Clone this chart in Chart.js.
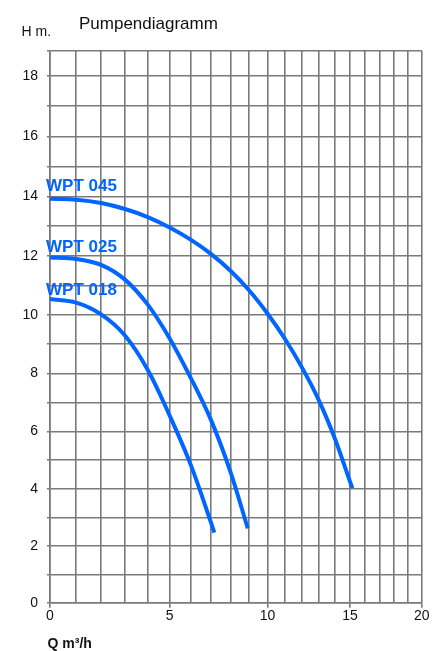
<!DOCTYPE html>
<html>
<head>
<meta charset="utf-8">
<script src="https://cdn.jsdelivr.net/npm/chart.js@4.4.1/dist/chart.umd.min.js"></script>
<style>
  html, body { margin: 0; padding: 0; background: #ffffff; }
  #wrap { width: 446px; height: 651px; position: relative; }
  canvas { display: block; }
</style>
</head>
<body>
<div id="wrap"><canvas id="c" width="446" height="651"></canvas></div>
<script>
// ---- data ----
const xTickValues = [0,1,2,3,4,5,6,7,8,9,10,11,12,13,14,15,16,17,18,19,20];
const xTickLabels = ['0','','','','','5','','','','','10','','','','','15','','','','','20'];
const yTickValues = [0,1,2,3,4,5,6,7,8,9,10,11,12,13,14,15,16,17,18];
const yTickLabels = ['0','','2','','4','','6','','8','','10','','12','','14','','16','','18'];

const seriesNames = ['WPT 045', 'WPT 025', 'WPT 018'];
const flowWPT045 = [0, 1, 2, 3, 4, 5, 6, 7, 8, 9, 10, 11, 12, 13, 14, 15, 15.15];
const headWPT045 = [13.92, 13.89, 13.78, 13.58, 13.31, 12.96, 12.55, 12.07, 11.5, 10.83, 10.05, 9.18, 8.2, 7.1, 5.78, 4.25, 4.03];
const flowWPT025 = [0, 1, 2, 3, 4, 5, 6, 7, 8, 8.92];
const headWPT025 = [11.95, 11.9, 11.7, 11.2, 10.35, 9.2, 7.85, 6.4, 4.6, 2.62];
const flowWPT018 = [0, 1, 2, 3, 4, 5, 6, 7, 7.17];
const headWPT018 = [10.54, 10.42, 10.02, 9.3, 8.12, 6.55, 4.85, 2.83, 2.47];

const titleText = 'Pumpendiagramm';
const yAxisText = 'H m.';
const xAxisText = 'Q m³/h';

// ---- non-uniform paper scale (as printed on the diagram) ----
const warps = {
  x: { f: v => Math.log(1 + v / 20), inv: t => 20 * (Math.exp(t) - 1) },
  y: { f: v => -Math.log(1 - v / 250), inv: t => 250 * (1 - Math.exp(-t)) }
};
class WarpScale extends Chart.LinearScale {
  _w() { return warps[this.axis] || warps.x; }
  getPixelForValue(value) {
    if (value === null || value === undefined || isNaN(value)) return NaN;
    const w = this._w();
    const a = w.f(this.min), b = w.f(this.max);
    return this.getPixelForDecimal((w.f(value) - a) / (b - a));
  }
  getValueForPixel(pixel) {
    const w = this._w();
    const a = w.f(this.min), b = w.f(this.max);
    return w.inv(a + this.getDecimalForPixel(pixel) * (b - a));
  }
}
WarpScale.id = 'warp';
WarpScale.defaults = Chart.LinearScale.defaults;
Chart.register(WarpScale);

const BLUE = '#0066ff';
const GRID = '#7a7a7a';

function pts(xs, ys) { return xs.map((x, i) => ({ x: x, y: ys[i] })); }

const textPlugin = {
  id: 'textPlugin',
  afterDraw(chart) {
    const ctx = chart.ctx;
    const xs = chart.scales.x, ys = chart.scales.y;
    ctx.save();
    ctx.textBaseline = 'alphabetic';
    ctx.textAlign = 'left';
    ctx.fillStyle = '#111';
    ctx.font = '17px "Liberation Sans", Arial, sans-serif';
    ctx.fillText(titleText, 79, 28.5);
    ctx.font = '14px "Liberation Sans", Arial, sans-serif';
    ctx.fillText(yAxisText, 21.5, 36);
    ctx.font = 'bold 14px "Liberation Sans", Arial, sans-serif';
    ctx.fillText(xAxisText, 47.5, 648);
    // series labels at the start of each curve
    ctx.fillStyle = BLUE;
    ctx.font = 'bold 17px "Liberation Sans", Arial, sans-serif';
    const offs = [-7.5, -5.5, -4];
    chart.data.datasets.forEach((ds, i) => {
      const p0 = ds.data[0];
      ctx.fillText(ds.label, xs.getPixelForValue(0) - 4, ys.getPixelForValue(p0.y) + offs[i]);
    });
    ctx.restore();
  }
};

const lineStyle = {
  borderColor: BLUE,
  borderWidth: 4,
  pointRadius: 0,
  fill: false,
  borderCapStyle: 'butt',
  tension: 0.35
};

new Chart(document.getElementById('c'), {
  type: 'line',
  data: {
    datasets: [
      Object.assign({ label: seriesNames[0], data: pts(flowWPT045, headWPT045) }, lineStyle),
      Object.assign({ label: seriesNames[1], data: pts(flowWPT025, headWPT025) }, lineStyle),
      Object.assign({ label: seriesNames[2], data: pts(flowWPT018, headWPT018) }, lineStyle)
    ]
  },
  options: {
    responsive: false,
    animation: false,
    devicePixelRatio: 1,
    layout: { padding: { left: 0, right: 24.3, top: 50.7, bottom: 18 } },
    plugins: { legend: { display: false }, tooltip: { enabled: false }, title: { display: false } },
    scales: {
      x: {
        type: 'warp',
        min: 0, max: 20,
        bounds: 'data',
        afterBuildTicks: s => { s.ticks = xTickValues.map(v => ({ value: v })); },
        afterFit: s => { s.height = 651 - 602.7 - 18; },
        grid: {
          color: GRID, lineWidth: 1.6, drawTicks: true, tickLength: 5,
          tickColor: c => (c.tick && xTickLabels[xTickValues.indexOf(c.tick.value)] !== '') ? GRID : 'rgba(0,0,0,0)'
        },
        border: { color: GRID, width: 1.6 },
        ticks: {
          autoSkip: false, maxRotation: 0, padding: 0,
          color: '#111',
          font: { family: '"Liberation Sans", Arial, sans-serif', size: 14 },
          callback: (v, i) => xTickLabels[i]
        }
      },
      y: {
        type: 'warp',
        min: 0, max: 18.83,
        bounds: 'data',
        afterBuildTicks: s => { s.ticks = yTickValues.concat([18.83]).map(v => ({ value: v })); },
        afterFit: s => { s.width = 50; },
        grid: { color: GRID, lineWidth: 1.6, drawTicks: true, tickLength: 3, tickColor: GRID },
        border: { color: GRID, width: 1.6 },
        ticks: {
          autoSkip: false, padding: 9,
          color: '#111',
          font: { family: '"Liberation Sans", Arial, sans-serif', size: 14 },
          callback: (v, i) => (i < yTickLabels.length ? yTickLabels[i] : '')
        }
      }
    }
  },
  plugins: [textPlugin]
});
</script>
</body>
</html>
